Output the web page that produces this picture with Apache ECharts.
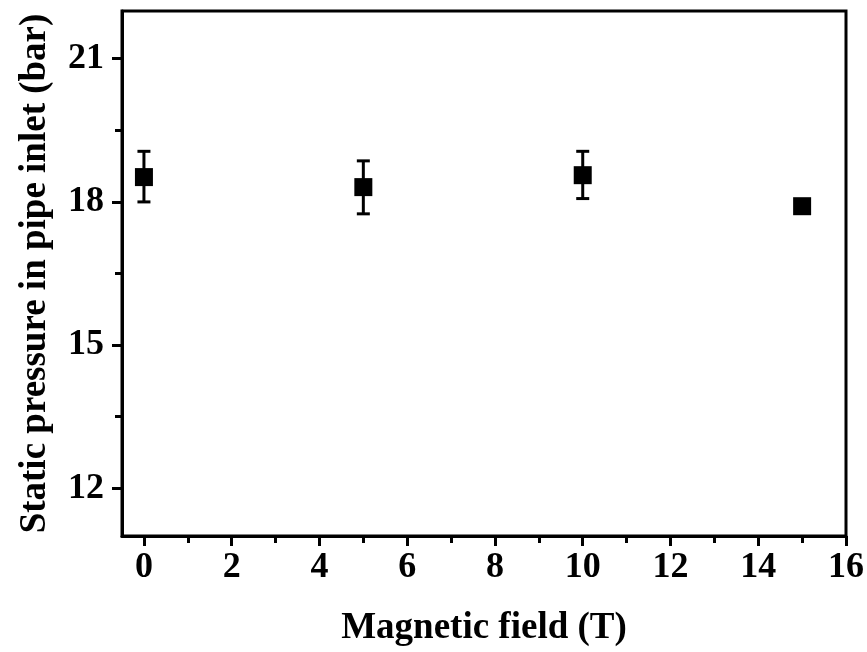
<!DOCTYPE html>
<html>
<head>
<meta charset="utf-8">
<style>
  html, body { margin: 0; padding: 0; background: #fff; }
  #main { width: 867px; height: 652px; }
</style>
<script src="https://cdn.jsdelivr.net/npm/echarts@6/dist/echarts.min.js"></script>
</head>
<body>
<div id="main"></div>
<script>
// data
var field = [0, 5, 10, 15];
var pressure = [18.52, 18.31, 18.56, 17.91];
var errLow = [18.00, 17.75, 18.07, null];
var errHigh = [19.06, 18.86, 19.06, null];

var xTicks = [0, 2, 4, 6, 8, 10, 12, 14, 16];
var xMinor = [1, 3, 5, 7, 9, 11, 13, 15];
var yTicks = [12, 15, 18, 21];
var yMinor = [13.5, 16.5, 19.5];

var chartDom = document.getElementById('main');
var myChart = echarts.init(chartDom);
var option;

var font = 'Liberation Serif';

var points = field.map(function (x, i) { return [x, pressure[i]]; });
var bars = [];
field.forEach(function (x, i) {
    if (errLow[i] != null) bars.push([x, errLow[i], errHigh[i]]);
});

option = {
    animation: false,
    backgroundColor: '#fff',
    grid: {
        left: 122,
        right: 20,
        top: 11,
        bottom: 115,
        show: true,
        borderColor: '#000',
        borderWidth: 3
    },
    xAxis: [{
        type: 'value',
        min: -0.5,
        max: 16,
        name: 'Magnetic field (T)',
        nameLocation: 'middle',
        nameGap: 74,
        nameTextStyle: {
            fontFamily: font,
            fontWeight: 'bold',
            fontSize: 37,
            color: '#000'
        },
        splitLine: { show: false },
        axisLine: { onZero: false, lineStyle: { color: '#000', width: 3 } },
        axisTick: {
            customValues: xTicks,
            length: 10,
            lineStyle: { color: '#000', width: 3 }
        },
        axisLabel: {
            customValues: xTicks,
            margin: 14,
            fontFamily: font,
            fontWeight: 'bold',
            fontSize: 36,
            color: '#000'
        }
    }, {
        type: 'value',
        min: -0.5,
        max: 16,
        position: 'bottom',
        splitLine: { show: false },
        axisLine: { show: false, onZero: false },
        axisLabel: { show: false },
        axisTick: {
            customValues: xMinor,
            length: 7,
            lineStyle: { color: '#000', width: 3 }
        }
    }],
    yAxis: [{
        type: 'value',
        min: 11,
        max: 22,
        name: 'Static pressure in pipe inlet (bar)',
        nameLocation: 'middle',
        nameGap: 68,
        nameTextStyle: {
            fontFamily: font,
            fontWeight: 'bold',
            fontSize: 37,
            color: '#000'
        },
        splitLine: { show: false },
        axisLine: { show: true, onZero: false, lineStyle: { color: '#000', width: 3 } },
        axisTick: {
            show: true,
            customValues: yTicks,
            length: 10,
            lineStyle: { color: '#000', width: 3 }
        },
        axisLabel: {
            customValues: yTicks,
            margin: 18,
            fontFamily: font,
            fontWeight: 'bold',
            fontSize: 36,
            color: '#000'
        }
    }, {
        type: 'value',
        min: 11,
        max: 22,
        position: 'left',
        splitLine: { show: false },
        axisLine: { show: false, onZero: false },
        axisLabel: { show: false },
        axisTick: {
            show: true,
            customValues: yMinor,
            length: 7,
            lineStyle: { color: '#000', width: 3 }
        }
    }],
    series: [{
        name: 'error',
        type: 'custom',
        data: bars,
        z: 2,
        renderItem: function (params, api) {
            var x = api.value(0);
            var lo = api.coord([x, api.value(1)]);
            var hi = api.coord([x, api.value(2)]);
            var half = 6.5;
            var style = { stroke: '#000', lineWidth: 3 };
            return {
                type: 'group',
                children: [
                    { type: 'line', shape: { x1: lo[0], y1: lo[1], x2: hi[0], y2: hi[1] }, style: style },
                    { type: 'line', shape: { x1: hi[0] - half, y1: hi[1], x2: hi[0] + half, y2: hi[1] }, style: style },
                    { type: 'line', shape: { x1: lo[0] - half, y1: lo[1], x2: lo[0] + half, y2: lo[1] }, style: style }
                ]
            };
        }
    }, {
        name: 'pressure',
        type: 'scatter',
        data: points,
        symbol: 'rect',
        symbolSize: 18,
        z: 3,
        itemStyle: { color: '#000', opacity: 1 }
    }]
};

option && myChart.setOption(option);
</script>
</body>
</html>
